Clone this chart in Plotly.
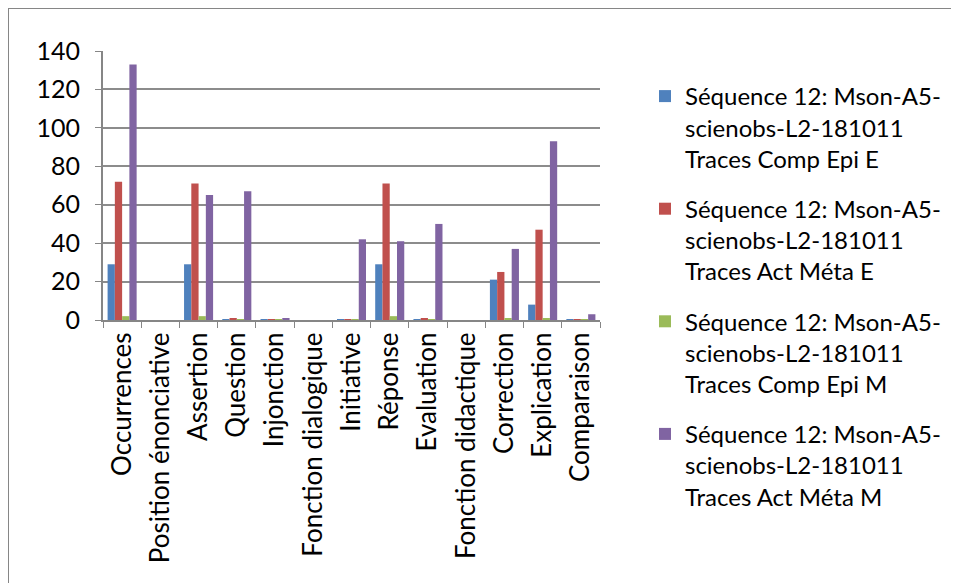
import plotly.graph_objects as go

categories = ["Occurrences", "Position énonciative", "Assertion", "Question", "Injonction",
              "Fonction dialogique", "Initiative", "Réponse", "Evaluation",
              "Fonction didactique", "Correction", "Explication", "Comparaison"]

series_names = [
    "Séquence 12: Mson-A5-<br>scienobs-L2-181011<br>Traces Comp Epi E",
    "Séquence 12: Mson-A5-<br>scienobs-L2-181011<br>Traces Act Méta E",
    "Séquence 12: Mson-A5-<br>scienobs-L2-181011<br>Traces Comp Epi M",
    "Séquence 12: Mson-A5-<br>scienobs-L2-181011<br>Traces Act Méta M",
]

comp_epi_e = [29, None, 29, 0.3, 0.3, None, 0.3, 29, 0.3, None, 21, 8, 0.3]
act_meta_e = [72, None, 71, 1, 0.5, None, 0.5, 71, 1, None, 25, 47, 0.3]
comp_epi_m = [2, None, 2, 0.3, 0.3, None, 0.3, 2, 0.3, None, 1, 1, 0.3]
act_meta_m = [133, None, 65, 67, 1, None, 42, 41, 50, None, 37, 93, 3]

colors = ["#4F81BD", "#C0504D", "#9BBB59", "#8064A2"]
values = [comp_epi_e, act_meta_e, comp_epi_m, act_meta_m]

FONT = "Lato"
W, H = 959, 583
L, T, R, B = 95, 43, 367, 271
PW, PH = W - L - R, H - T - B

fig = go.Figure()
for i, (name, vals, col) in enumerate(zip(series_names, values, colors)):
    fig.add_trace(go.Bar(
        x=categories, y=vals, name=name,
        marker=dict(color=col, line=dict(width=0)),
        legendgroup=f"g{i}",
    ))

fig.update_layout(
    width=W, height=H,
    margin=dict(l=L, r=R, t=T, b=B, autoexpand=False),
    paper_bgcolor="white", plot_bgcolor="white",
    barmode="group", bargap=0.24, bargroupgap=0.0,
    font=dict(family=FONT, size=24, color="#000000"),
    showlegend=True,
    legend=dict(
        xref="container", yref="container",
        x=(645 - 8) / W, y=1 - (74 - 8) / H, xanchor="left", yanchor="top",
        font=dict(family=FONT, size=24, color="#000000"),
        traceorder="grouped", tracegroupgap=16,
        itemwidth=30, maxheight=520, valign="top",
        bgcolor="rgba(0,0,0,0)",
    ),
    xaxis=dict(
        type="category", tickangle=-90, automargin=False,
        ticks="outside", tickson="boundaries", ticklen=6,
        tickcolor="#868686", linecolor="#868686", linewidth=2,
        showline=True, showgrid=False,
        tickfont=dict(family=FONT, size=26, color="#000000"),
    ),
    yaxis=dict(
        range=[0, 140], dtick=20, tick0=0, automargin=False,
        ticks="outside", ticklen=6, tickcolor="#868686",
        showline=True, linecolor="#868686", linewidth=2,
        showgrid=True, gridcolor="#8c8c8c", gridwidth=2,
        zeroline=False, ticklabelstandoff=10,
        tickfont=dict(family=FONT, size=25, color="#000000"),
    ),
    shapes=[
        dict(type="line", xref="paper", yref="paper",
             x0=(0 - L) / PW, x1=(W - L) / PW,
             y0=1 + T / PH, y1=1 + T / PH,
             line=dict(color="#868686", width=2)),
        dict(type="line", xref="paper", yref="paper",
             x0=(0 - L) / PW, x1=(0 - L) / PW,
             y0=1 + T / PH, y1=-B / PH,
             line=dict(color="#868686", width=2)),
    ],
)

fig.write_html("out.html")
